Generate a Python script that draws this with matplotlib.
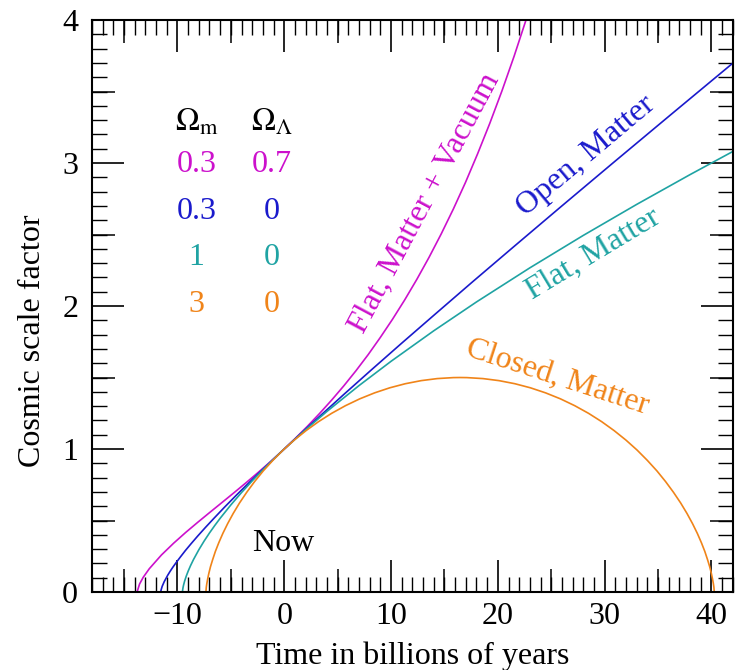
import matplotlib
matplotlib.use("Agg")
import matplotlib.pyplot as plt
from matplotlib.ticker import MultipleLocator, FixedLocator

plt.rcParams['font.family'] = ['Liberation Serif', 'DejaVu Serif']
plt.rcParams['mathtext.fontset'] = 'stix'

# time (Gyr, 0 = now) and scale factor
t_flat_vac = [-13.78, -13.55, -13.21, -12.64, -11.50, -10.36, -9.23, -8.09, -6.95, -5.81, -4.67,
              -3.53, -2.39, -1.25, -0.11, 1.02, 2.16, 3.30, 4.44, 5.58, 6.72, 7.86, 8.99, 10.13,
              11.27, 12.41, 13.55, 14.69, 15.83, 16.97, 18.10, 19.24, 20.38, 21.52, 22.66, 23.80]
a_flat_vac = [0.0, 0.0556, 0.1024, 0.1626, 0.2590, 0.3412, 0.4165, 0.4882, 0.5580, 0.6271, 0.6965,
              0.7672, 0.8395, 0.9143, 0.9921, 1.0732, 1.1582, 1.2478, 1.3423, 1.4421, 1.5479, 1.6603,
              1.7797, 1.9066, 2.0418, 2.1859, 2.3394, 2.5032, 2.6778, 2.8644, 3.0636, 3.2764, 3.5037,
              3.7463, 4.0056, 4.2823]

t_open = [-11.56, -11.56, -11.52, -11.43, -11.24, -10.92, -10.70, -10.43, -10.10, -9.71, -9.26,
          -8.72, -8.10, -7.38, -6.55, -5.61, -4.53, -3.30, -1.91, -0.34, 1.43, 3.43, 5.66, 8.17,
          10.98, 14.13, 17.63, 21.55, 25.91, 30.77, 36.18, 42.19]
a_open = [0.0, 0.0043, 0.0174, 0.0398, 0.0723, 0.1164, 0.1433, 0.1737, 0.2081, 0.2466, 0.2898,
          0.3381, 0.3918, 0.4516, 0.5181, 0.5919, 0.6738, 0.7646, 0.8652, 0.9766, 1.0999, 1.2363,
          1.3872, 1.5543, 1.7390, 1.9432, 2.1691, 2.4187, 2.6947, 2.9999, 3.3372, 3.7101]

t_flat = [-9.53, -9.52, -9.48, -9.43, -9.33, -9.18, -9.00, -8.78, -8.50, -8.00, -7.50, -7.00,
          -6.50, -6.00, -5.00, -4.00, -3.00, -2.00, -1.00, 0.0, 2.0, 4.0, 7.0, 10.0, 14.0, 18.0,
          23.0, 28.0, 33.0, 38.0, 42.0]
a_flat = [0.0, 0.0103, 0.0302, 0.0479, 0.0761, 0.1105, 0.1457, 0.1836, 0.2269, 0.2953, 0.3567,
          0.4131, 0.4658, 0.5158, 0.6091, 0.6958, 0.7772, 0.8546, 0.9288, 1.0, 1.1354, 1.2632,
          1.4436, 1.6134, 1.8268, 2.0285, 2.2671, 2.4938, 2.7106, 2.9191, 3.0806]

t_closed = [-7.33, -7.33, -7.32, -7.30, -7.25, -7.17, -7.06, -6.91, -6.70, -6.45, -6.13, -5.75,
            -5.30, -4.78, -4.19, -3.52, -2.78, -1.97, -1.07, -0.11, 0.93, 2.04, 3.21, 4.44, 5.73,
            7.07, 8.46, 9.88, 11.34, 12.82, 14.32, 15.83, 16.46, 17.10, 18.61, 20.11, 21.59, 23.05,
            24.47, 25.86, 27.20, 28.49, 29.72, 30.89, 32.00, 33.04, 34.00, 34.90, 35.71, 36.45,
            37.12, 37.71, 38.23, 38.68, 39.06, 39.38, 39.63, 39.84, 39.99, 40.10, 40.18, 40.23,
            40.25, 40.26, 40.26]
a_closed = [0.0, 0.0038, 0.0150, 0.0335, 0.0592, 0.0918, 0.1310, 0.1764, 0.2275, 0.2838, 0.3448,
            0.4098, 0.4782, 0.5494, 0.6225, 0.6969, 0.7719, 0.8466, 0.9204, 0.9925, 1.0621, 1.1286,
            1.1914, 1.2497, 1.3030, 1.3509, 1.3927, 1.4281, 1.4567, 1.4782, 1.4925, 1.4994, 1.5,
            1.4994, 1.4925, 1.4782, 1.4567, 1.4281, 1.3927, 1.3509, 1.3030, 1.2497, 1.1914, 1.1286,
            1.0621, 0.9925, 0.9204, 0.8466, 0.7719, 0.6969, 0.6225, 0.5494, 0.4782, 0.4098, 0.3448,
            0.2838, 0.2275, 0.1764, 0.1310, 0.0918, 0.0592, 0.0335, 0.0150, 0.0038, 0.0]

omega_m = ['0.3', '0.3', '1', '3']
omega_l = ['0.7', '0', '0', '0']
labels = ['Flat, Matter + Vacuum', 'Open, Matter', 'Flat, Matter', 'Closed, Matter']
colors = ['#cc11cc', '#1a1acc', '#1fa3a3', '#f08419']

fig = plt.figure(figsize=(7.35, 6.7), dpi=100)
ax = fig.add_axes([0.1252, 0.1164, 0.8718, 0.8537])

lw = 1.2
ax.plot(t_flat_vac, a_flat_vac, color=colors[0], lw=lw)
ax.plot(t_open, a_open, color=colors[1], lw=lw)
ax.plot(t_flat, a_flat, color=colors[2], lw=lw)
ax.plot(t_closed, a_closed, color=colors[3], lw=lw)

ax.set_xlim(-18, 42)
ax.set_ylim(0, 4)

fs = 23
# ticks: long / medium / short
ax.xaxis.set_major_locator(MultipleLocator(10))
ax.xaxis.set_minor_locator(MultipleLocator(1))
ax.yaxis.set_major_locator(MultipleLocator(1))
ax.yaxis.set_minor_locator(MultipleLocator(0.1))
ax.tick_params(which='major', direction='in', length=23, width=1.2, top=True, right=True,
               labelsize=fs)
ax.tick_params(axis='x', which='major', pad=7)
ax.tick_params(axis='y', which='major', pad=10)
ax.tick_params(which='minor', direction='in', length=11, width=1.0, top=True, right=True)
ax.set_xticks([-10, 0, 10, 20, 30, 40])
ax.set_xticklabels(['\u221210', '0', '10', '20', '30', '40'])
for s in ax.spines.values():
    s.set_linewidth(1.5)

for loc in ['bottom', 'top']:
    sx = ax.secondary_xaxis(loc)
    sx.xaxis.set_major_locator(FixedLocator([-15, -5, 5, 15, 25, 35]))
    sx.tick_params(direction='in', length=16.5, width=1.1, labelbottom=False, labeltop=False)
    sx.spines[loc].set_visible(False)
for loc in ['left', 'right']:
    sy = ax.secondary_yaxis(loc)
    sy.yaxis.set_major_locator(FixedLocator([0.5, 1.5, 2.5, 3.5]))
    sy.tick_params(direction='in', length=16.5, width=1.1, labelleft=False, labelright=False)
    sy.spines[loc].set_visible(False)

ax.set_xlabel('Time in billions of years', fontsize=fs)
ax.set_ylabel('Cosmic scale factor', fontsize=fs)
ax.xaxis.set_label_coords(0.5, -0.087)
ax.yaxis.set_label_coords(-0.07, 0.44)

# legend table
ax.text(-8.2, 3.28, r'$\Omega_\mathrm{m}$', fontsize=fs, ha='center', va='center')
ax.text(-1.2, 3.28, r'$\Omega_\Lambda$', fontsize=fs, ha='center', va='center')
rows_y = [2.99, 2.66, 2.34, 2.01]
for m, l, c, y in zip(omega_m, omega_l, colors, rows_y):
    ax.text(-8.2, y, m, fontsize=fs, ha='center', va='center', color=c)
    ax.text(-1.2, y, l, fontsize=fs, ha='center', va='center', color=c)

# curve labels
ax.text(13.2, 2.72, labels[0], fontsize=fs, color=colors[0], rotation=62,
        ha='center', va='center', rotation_mode='anchor')
ax.text(28.3, 3.05, labels[1], fontsize=fs, color=colors[1], rotation=40,
        ha='center', va='center', rotation_mode='anchor')
ax.text(28.9, 2.36, labels[2], fontsize=fs, color=colors[2], rotation=31,
        ha='center', va='center', rotation_mode='anchor')
ax.text(25.6, 1.50, labels[3], fontsize=fs, color=colors[3], rotation=-18,
        ha='center', va='center', rotation_mode='anchor')
ax.text(-0.1, 0.34, 'Now', fontsize=fs, ha='center', va='center')

fig.savefig('out.png', dpi=100)
